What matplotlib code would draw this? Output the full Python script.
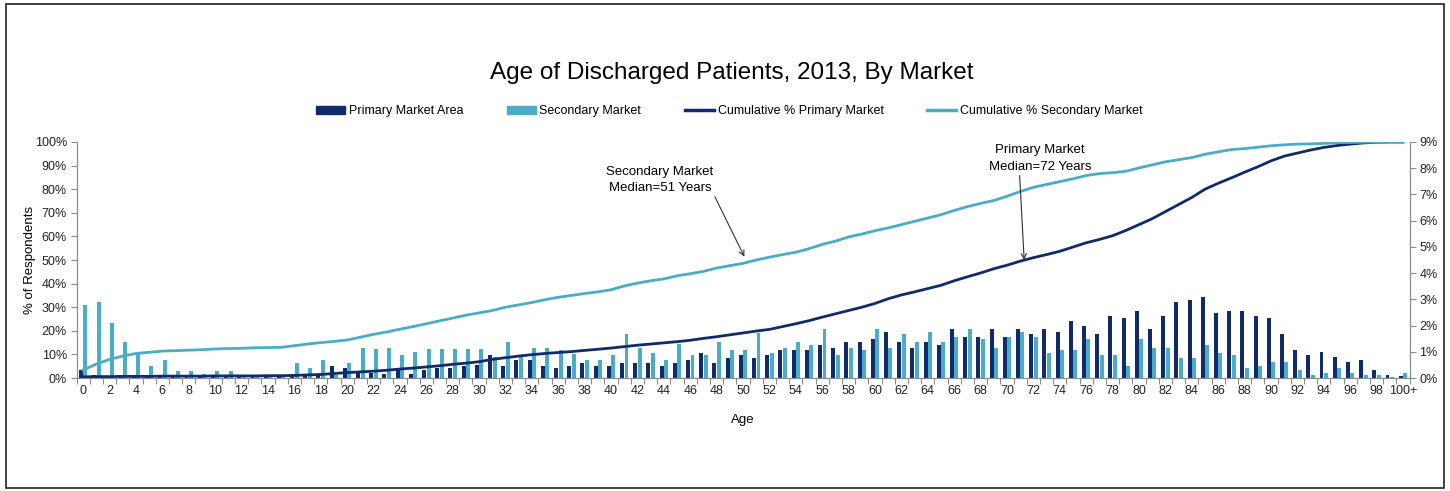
import numpy as np
import matplotlib
matplotlib.use("Agg")
import matplotlib.pyplot as plt
from matplotlib.patches import Patch, Rectangle
from matplotlib.lines import Line2D

plt.rcParams['font.family'] = ['Liberation Sans', 'DejaVu Sans']

# ages 0..99 and 100+
ages = [str(a) for a in range(100)] + ["100+"]

# % of patients at each age (right axis)
primary = [0.30, 0.12, 0.05, 0.10, 0.05, 0.05, 0.05, 0.05, 0.05, 0.05,
           0.05, 0.05, 0.05, 0.05, 0.05, 0.08, 0.10, 0.14, 0.15, 0.46,
           0.37, 0.20, 0.20, 0.15, 0.30, 0.15, 0.30, 0.37, 0.40, 0.46,
           0.50, 0.88, 0.46, 0.69, 0.69, 0.46, 0.37, 0.46, 0.58, 0.46,
           0.46, 0.58, 0.58, 0.58, 0.46, 0.58, 0.67, 0.97, 0.58, 0.78,
           0.88, 0.78, 0.88, 1.07, 1.07, 1.07, 1.26, 1.16, 1.37, 1.37,
           1.48, 1.77, 1.37, 1.16, 1.37, 1.26, 1.87, 1.58, 1.58, 1.87,
           1.58, 1.87, 1.68, 1.87, 1.77, 2.18, 1.98, 1.68, 2.38, 2.28,
           2.57, 1.87, 2.38, 2.88, 2.98, 3.08, 2.47, 2.57, 2.57, 2.38,
           2.29, 1.69, 1.08, 0.88, 0.98, 0.79, 0.60, 0.70, 0.29, 0.10,
           0.06]
secondary = [2.80, 2.90, 2.09, 1.39, 0.92, 0.46, 0.69, 0.28, 0.28, 0.15,
             0.28, 0.28, 0.10, 0.10, 0.10, 0.12, 0.58, 0.37, 0.69, 0.10,
             0.58, 1.16, 1.10, 1.16, 0.88, 0.98, 1.10, 1.10, 1.10, 1.10,
             1.10, 0.80, 1.39, 0.88, 1.16, 1.16, 1.07, 0.92, 0.67, 0.67,
             0.88, 1.68, 1.16, 0.97, 0.67, 1.30, 0.88, 0.88, 1.37, 1.07,
             1.07, 1.73, 0.97, 1.16, 1.37, 1.26, 1.87, 0.88, 1.16, 1.07,
             1.87, 1.16, 1.68, 1.37, 1.77, 1.37, 1.58, 1.87, 1.48, 1.16,
             1.58, 1.77, 1.58, 0.97, 1.07, 1.07, 1.48, 0.88, 0.88, 0.46,
             1.48, 1.16, 1.16, 0.78, 0.78, 1.26, 0.97, 0.88, 0.37, 0.46,
             0.60, 0.60, 0.29, 0.10, 0.19, 0.38, 0.19, 0.10, 0.10, 0.02,
             0.19]

# cumulative % (left axis)
cum_primary = [0.5, 0.6, 0.6, 0.7, 0.7, 0.7, 0.8, 0.8, 0.8, 0.8,
               0.9, 0.9, 0.9, 0.9, 1.0, 1.0, 1.1, 1.3, 1.5, 1.9,
               2.3, 2.6, 2.9, 3.3, 3.8, 4.2, 4.7, 5.2, 5.8, 6.3,
               6.9, 7.9, 8.6, 9.3, 9.9, 10.4, 10.8, 11.2, 11.7, 12.2,
               12.7, 13.3, 13.9, 14.4, 14.9, 15.4, 16.0, 16.8, 17.5, 18.3,
               19.1, 19.9, 20.6, 21.8, 23.0, 24.3, 25.8, 27.2, 28.6, 30.0,
               31.6, 33.6, 35.2, 36.5, 37.9, 39.3, 41.2, 42.9, 44.5, 46.3,
               47.8, 49.5, 51.0, 52.3, 53.7, 55.5, 57.3, 58.7, 60.3, 62.5,
               65.0, 67.5, 70.5, 73.5, 76.5, 80.0, 82.5, 84.8, 87.2, 89.5,
               92.0, 94.0, 95.3, 96.6, 97.7, 98.5, 99.1, 99.6, 99.9, 100.0,
               100.0]
cum_secondary = [3.4, 5.9, 7.9, 9.3, 10.4, 10.9, 11.4, 11.6, 11.8, 12.0,
                 12.3, 12.5, 12.6, 12.8, 12.9, 13.0, 13.7, 14.4, 15.0, 15.5,
                 16.1, 17.3, 18.5, 19.5, 20.7, 21.8, 23.0, 24.2, 25.4, 26.6,
                 27.6, 28.6, 30.0, 31.0, 32.0, 33.2, 34.2, 35.0, 35.8, 36.5,
                 37.4, 39.0, 40.2, 41.2, 42.0, 43.3, 44.2, 45.2, 46.6, 47.6,
                 48.6, 50.0, 51.2, 52.3, 53.3, 54.8, 56.6, 58.0, 59.8, 61.0,
                 62.4, 63.6, 65.0, 66.4, 67.8, 69.2, 71.0, 72.6, 74.0, 75.2,
                 77.0, 79.0, 80.8, 82.0, 83.2, 84.4, 85.8, 86.6, 87.0, 87.6,
                 89.0, 90.3, 91.6, 92.5, 93.4, 94.8, 95.8, 96.8, 97.2, 97.8,
                 98.4, 98.8, 99.1, 99.2, 99.4, 99.7, 99.8, 99.9, 99.95, 99.97,
                 100.0]

DARK = "#102A6B"
LIGHT = "#4BACC6"
AXIS = "#8C8C8C"

x = np.arange(len(ages))

fig = plt.figure(figsize=(14.5, 4.91), dpi=100)
ax = fig.add_axes([0.0528, 0.2301, 0.9193, 0.4807])
ax2 = ax.twinx()

# bars on the secondary (right) axis
ax2.bar(x - 0.17, primary, width=0.3, color=DARK, zorder=2)
ax2.bar(x + 0.17, secondary, width=0.3, color=LIGHT, zorder=2)
ax2.set_ylim(0, 9)
ax2.set_yticks(range(10))
ax2.set_yticklabels([f"{v}%" for v in range(10)])

# cumulative lines on the left axis, drawn on top
ax.set_zorder(ax2.get_zorder() + 1)
ax.patch.set_visible(False)
ax.plot(x, cum_primary, color=DARK, lw=2.0)
ax.plot(x, cum_secondary, color=LIGHT, lw=2.0)
ax.set_ylim(0, 100)
ax.set_yticks(range(0, 101, 10))
ax.set_yticklabels([f"{v}%" for v in range(0, 101, 10)])
ax.set_xlim(-0.5, len(ages) - 0.5)

# tick marks between categories, labels on every other age
ax.set_xticks(np.arange(-0.5, len(ages), 1))
ax.set_xticklabels([])
ax.set_xticks(x[::2], minor=True)
ax.set_xticklabels(ages[::2], minor=True)
ax.tick_params(axis='x', which='minor', length=0, pad=5)
ax.tick_params(axis='x', which='major', length=4, color=AXIS)

for a in (ax, ax2):
    a.spines['top'].set_visible(False)
    for s in ('left', 'right', 'bottom'):
        a.spines[s].set_color(AXIS)
    a.tick_params(axis='both', which='both', labelsize=9, labelcolor="#222222")
    a.tick_params(axis='y', length=4, color=AXIS, pad=3)

ax.set_ylabel("% of Respondents", fontsize=9.5, labelpad=-1)
ax.set_xlabel("Age", fontsize=9.5, labelpad=12)

fig.text(0.505, 0.852, "Age of Discharged Patients, 2013, By Market",
         ha='center', va='center', fontsize=17.5)

handles = [Patch(color=DARK), Patch(color=LIGHT),
           Line2D([], [], color=DARK, lw=2.5), Line2D([], [], color=LIGHT, lw=2.5)]
labels = ["Primary Market Area", "Secondary Market",
          "Cumulative % Primary Market", "Cumulative % Secondary Market"]
fig.legend(handles, labels, loc='center', bbox_to_anchor=(0.503, 0.774), ncol=4,
           frameon=False, fontsize=9, handlelength=2.3, handleheight=0.6,
           columnspacing=3.5, handletextpad=0.3)

# median call-outs
ax.annotate("Secondary Market\nMedian=51 Years", xy=(50.1, 51.4), xytext=(43.7, 84),
            ha='center', va='center', fontsize=9.5, linespacing=1.5,
            arrowprops=dict(arrowstyle='->', color="#333333", lw=0.8,
                            shrinkA=0, shrinkB=0, relpos=(1.0, 0.0)))
ax.annotate("Primary Market\nMedian=72 Years", xy=(71.3, 50), xytext=(72.5, 93),
            ha='center', va='center', fontsize=9.5, linespacing=1.5,
            arrowprops=dict(arrowstyle='->', color="#333333", lw=0.8,
                            shrinkA=0, shrinkB=0, relpos=(0.3, 0.0)))

# outer frame
fig.patches.append(Rectangle((0.004, 0.006), 0.992, 0.986, transform=fig.transFigure,
                             fill=False, edgecolor="#222222", lw=1.2))

fig.savefig("out.png", dpi=100)
